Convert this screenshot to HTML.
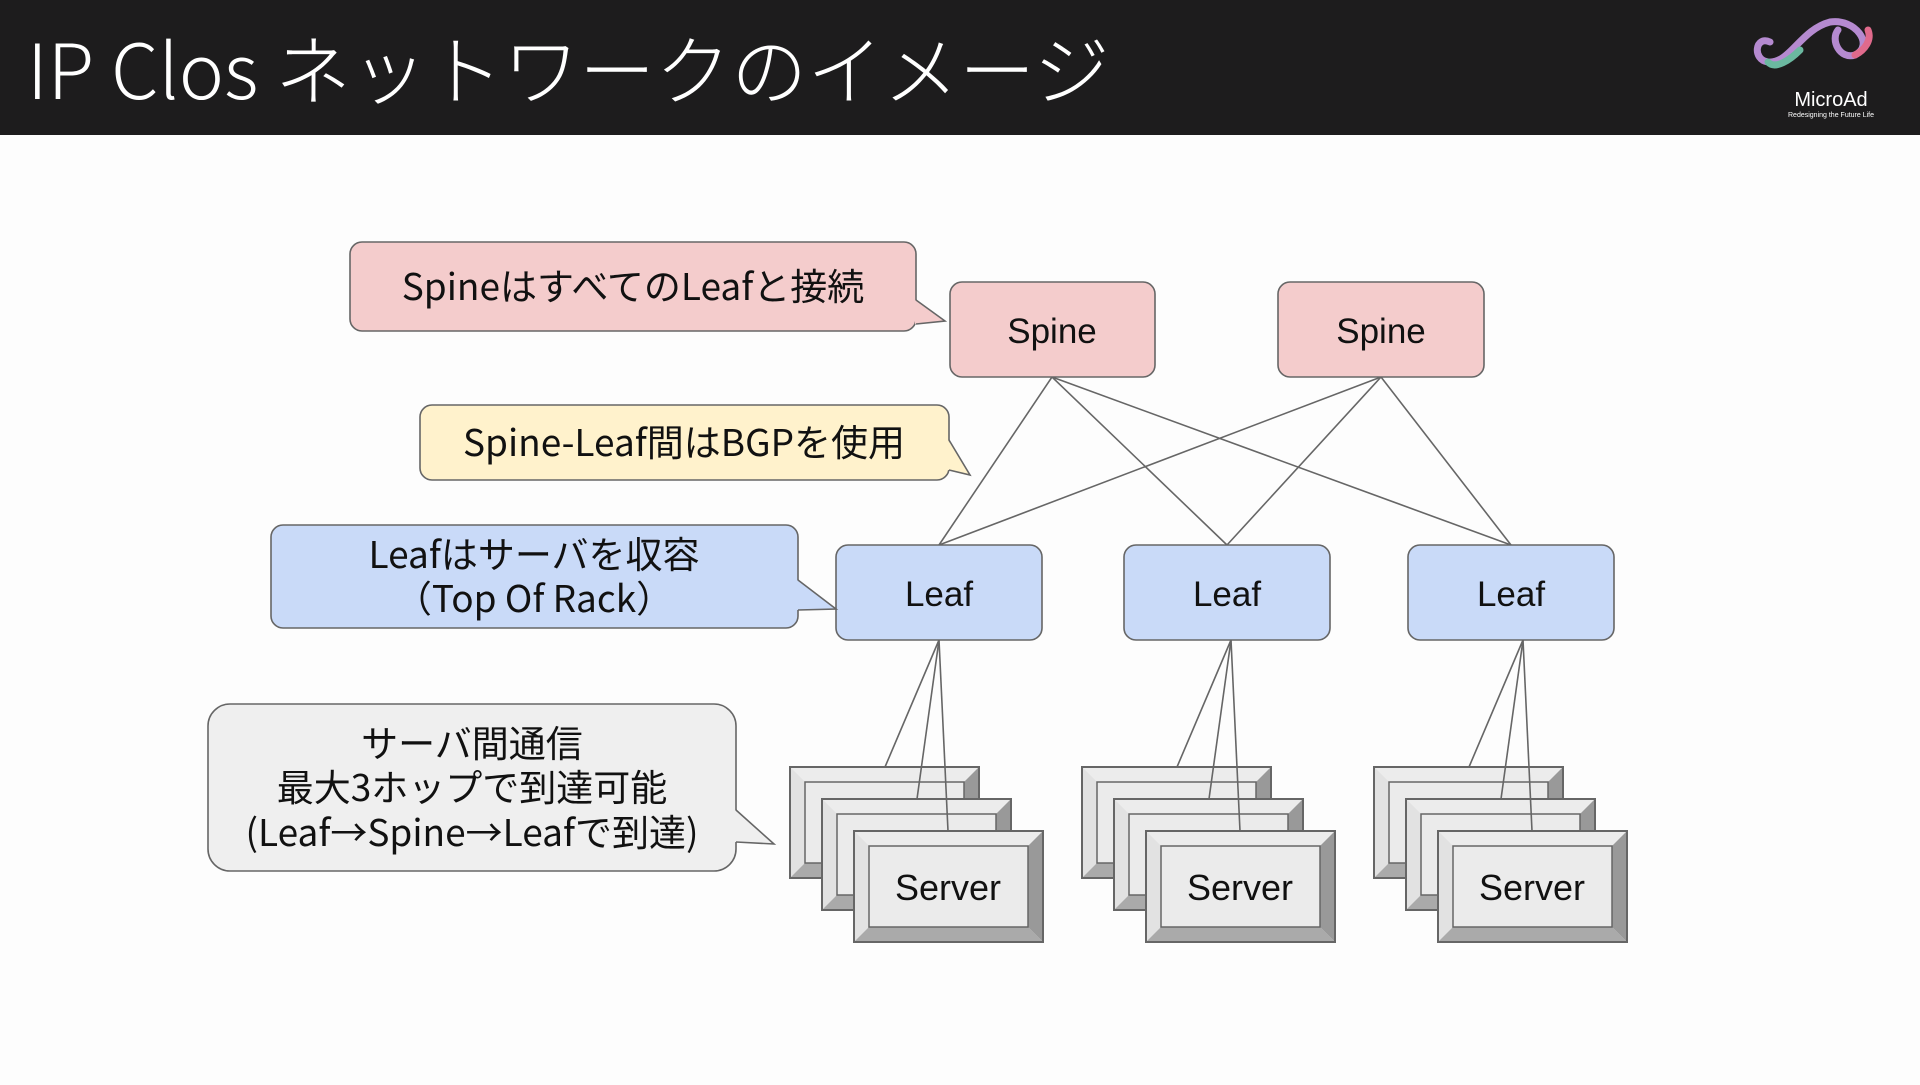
<!DOCTYPE html>
<html><head><meta charset="utf-8"><style>
body{margin:0;width:1920px;height:1080px;overflow:hidden;background:#fdfdfd;font-family:"Liberation Sans","Noto Sans CJK JP",sans-serif}
</style></head><body>
<svg width="1920" height="1080" xmlns="http://www.w3.org/2000/svg" font-family="Liberation Sans, Noto Sans CJK JP, sans-serif">
<rect x="0" y="0" width="1920" height="135" fill="#1d1c1d"/>
<text x="27" y="99" font-size="76" fill="#fff" font-family="Noto Sans CJK JP, sans-serif" font-weight="300">IP Clos ネットワークのイメージ</text>
<g fill="none" stroke-width="7" stroke-linecap="round">
<path d="M1770 42 C1755 35 1752 60 1768 62 C1790 64 1800 30 1830 22 C1855 18 1875 45 1855 55 C1840 60 1830 40 1838 30" stroke="#b58ad0"/>
<path d="M1768 62 C1775 70 1790 60 1800 50" stroke="#6bb8a0"/>
<path d="M1855 55 C1865 50 1872 40 1868 30" stroke="#e06a8c"/>
</g>
<text x="1831" y="106" font-size="20" fill="#fff" text-anchor="middle">MicroAd</text>
<text x="1831" y="117" font-size="7" fill="#fff" text-anchor="middle">Redesigning the Future Life</text>

<g stroke="#666" stroke-width="1.6">
<line x1="1052" y1="377" x2="939" y2="545"/><line x1="1052" y1="377" x2="1227" y2="545"/><line x1="1052" y1="377" x2="1511" y2="545"/>
<line x1="1381" y1="377" x2="939" y2="545"/><line x1="1381" y1="377" x2="1227" y2="545"/><line x1="1381" y1="377" x2="1511" y2="545"/>
</g>

<defs>
<g id="srv">
<rect x="0" y="0" width="189" height="111" fill="#e8e8e8" stroke="#666" stroke-width="2"/>
<polygon points="1,1 188,1 174,15 15,15" fill="#ececec"/>
<polygon points="1,1 15,15 15,96 1,110" fill="#e2e2e2"/>
<polygon points="188,1 188,110 174,96 174,15" fill="#999"/>
<polygon points="1,110 188,110 174,96 15,96" fill="#aaa"/>
<rect x="15" y="15" width="159" height="81" fill="#ebebeb" stroke="#666" stroke-width="1.5"/>
<rect x="0" y="0" width="189" height="111" fill="none" stroke="#666" stroke-width="2"/>
</g>
<g id="stack">
<use href="#srv" x="0" y="0"/><use href="#srv" x="32" y="32"/><use href="#srv" x="64" y="64"/>
<text x="158" y="133" font-size="36" text-anchor="middle" fill="#111">Server</text>
<g stroke="#666" stroke-width="1.6"><line x1="149" y1="-127" x2="95" y2="0"/><line x1="149" y1="-127" x2="127" y2="32"/><line x1="149" y1="-127" x2="158" y2="64"/></g>
</g>
</defs>
<use href="#stack" x="790" y="767"/><use href="#stack" x="1082" y="767"/><use href="#stack" x="1374" y="767"/>

<g stroke="#666" stroke-width="1.6" font-size="35" text-anchor="middle">
<rect x="950" y="282" width="205" height="95" rx="12" fill="#f4cccc"/><text x="1052" y="343" stroke="none" fill="#111">Spine</text>
<rect x="1278" y="282" width="206" height="95" rx="12" fill="#f4cccc"/><text x="1381" y="343" stroke="none" fill="#111">Spine</text>
<rect x="836" y="545" width="206" height="95" rx="12" fill="#c9daf8"/><text x="939" y="606" stroke="none" fill="#111">Leaf</text>
<rect x="1124" y="545" width="206" height="95" rx="12" fill="#c9daf8"/><text x="1227" y="606" stroke="none" fill="#111">Leaf</text>
<rect x="1408" y="545" width="206" height="95" rx="12" fill="#c9daf8"/><text x="1511" y="606" stroke="none" fill="#111">Leaf</text>
</g>

<g stroke="#666" stroke-width="1.6" font-family="Noto Sans CJK JP, sans-serif" font-size="37" text-anchor="middle" fill="#111">
<rect x="350" y="242" width="566" height="89" rx="12" fill="#f4cccc"/>
<polygon points="915,300 945,321 915,324" fill="#f4cccc" stroke="none"/><polyline points="916,300 945,321 916,324" fill="none"/>
<text x="633" y="300" stroke="none">SpineはすべてのLeafと接続</text>

<rect x="420" y="405" width="529" height="75" rx="12" fill="#fff2cc"/>
<polygon points="948,440 970,475 948,470" fill="#fff2cc" stroke="none"/><polyline points="949,440 970,475 949,470" fill="none"/>
<text x="684" y="456" stroke="none">Spine-Leaf間はBGPを使用</text>

<rect x="271" y="525" width="527" height="103" rx="12" fill="#c9daf8"/>
<polygon points="797,580 836,609 797,610" fill="#c9daf8" stroke="none"/><polyline points="798,580 836,609 798,610" fill="none"/>
<text x="534" y="568" stroke="none">Leafはサーバを収容</text>
<text x="534" y="612" stroke="none">（Top Of Rack）</text>

<rect x="208" y="704" width="528" height="167" rx="22" fill="#efefef"/>
<polygon points="735,810 774,844 735,842" fill="#efefef" stroke="none"/><polyline points="736,810 774,844 736,842" fill="none"/>
<text x="472" y="757" stroke="none">サーバ間通信</text>
<text x="472" y="801" stroke="none">最大3ホップで到達可能</text>
<text x="472" y="846" stroke="none">(Leaf→Spine→Leafで到達)</text>
</g>
</svg>
</body></html>
